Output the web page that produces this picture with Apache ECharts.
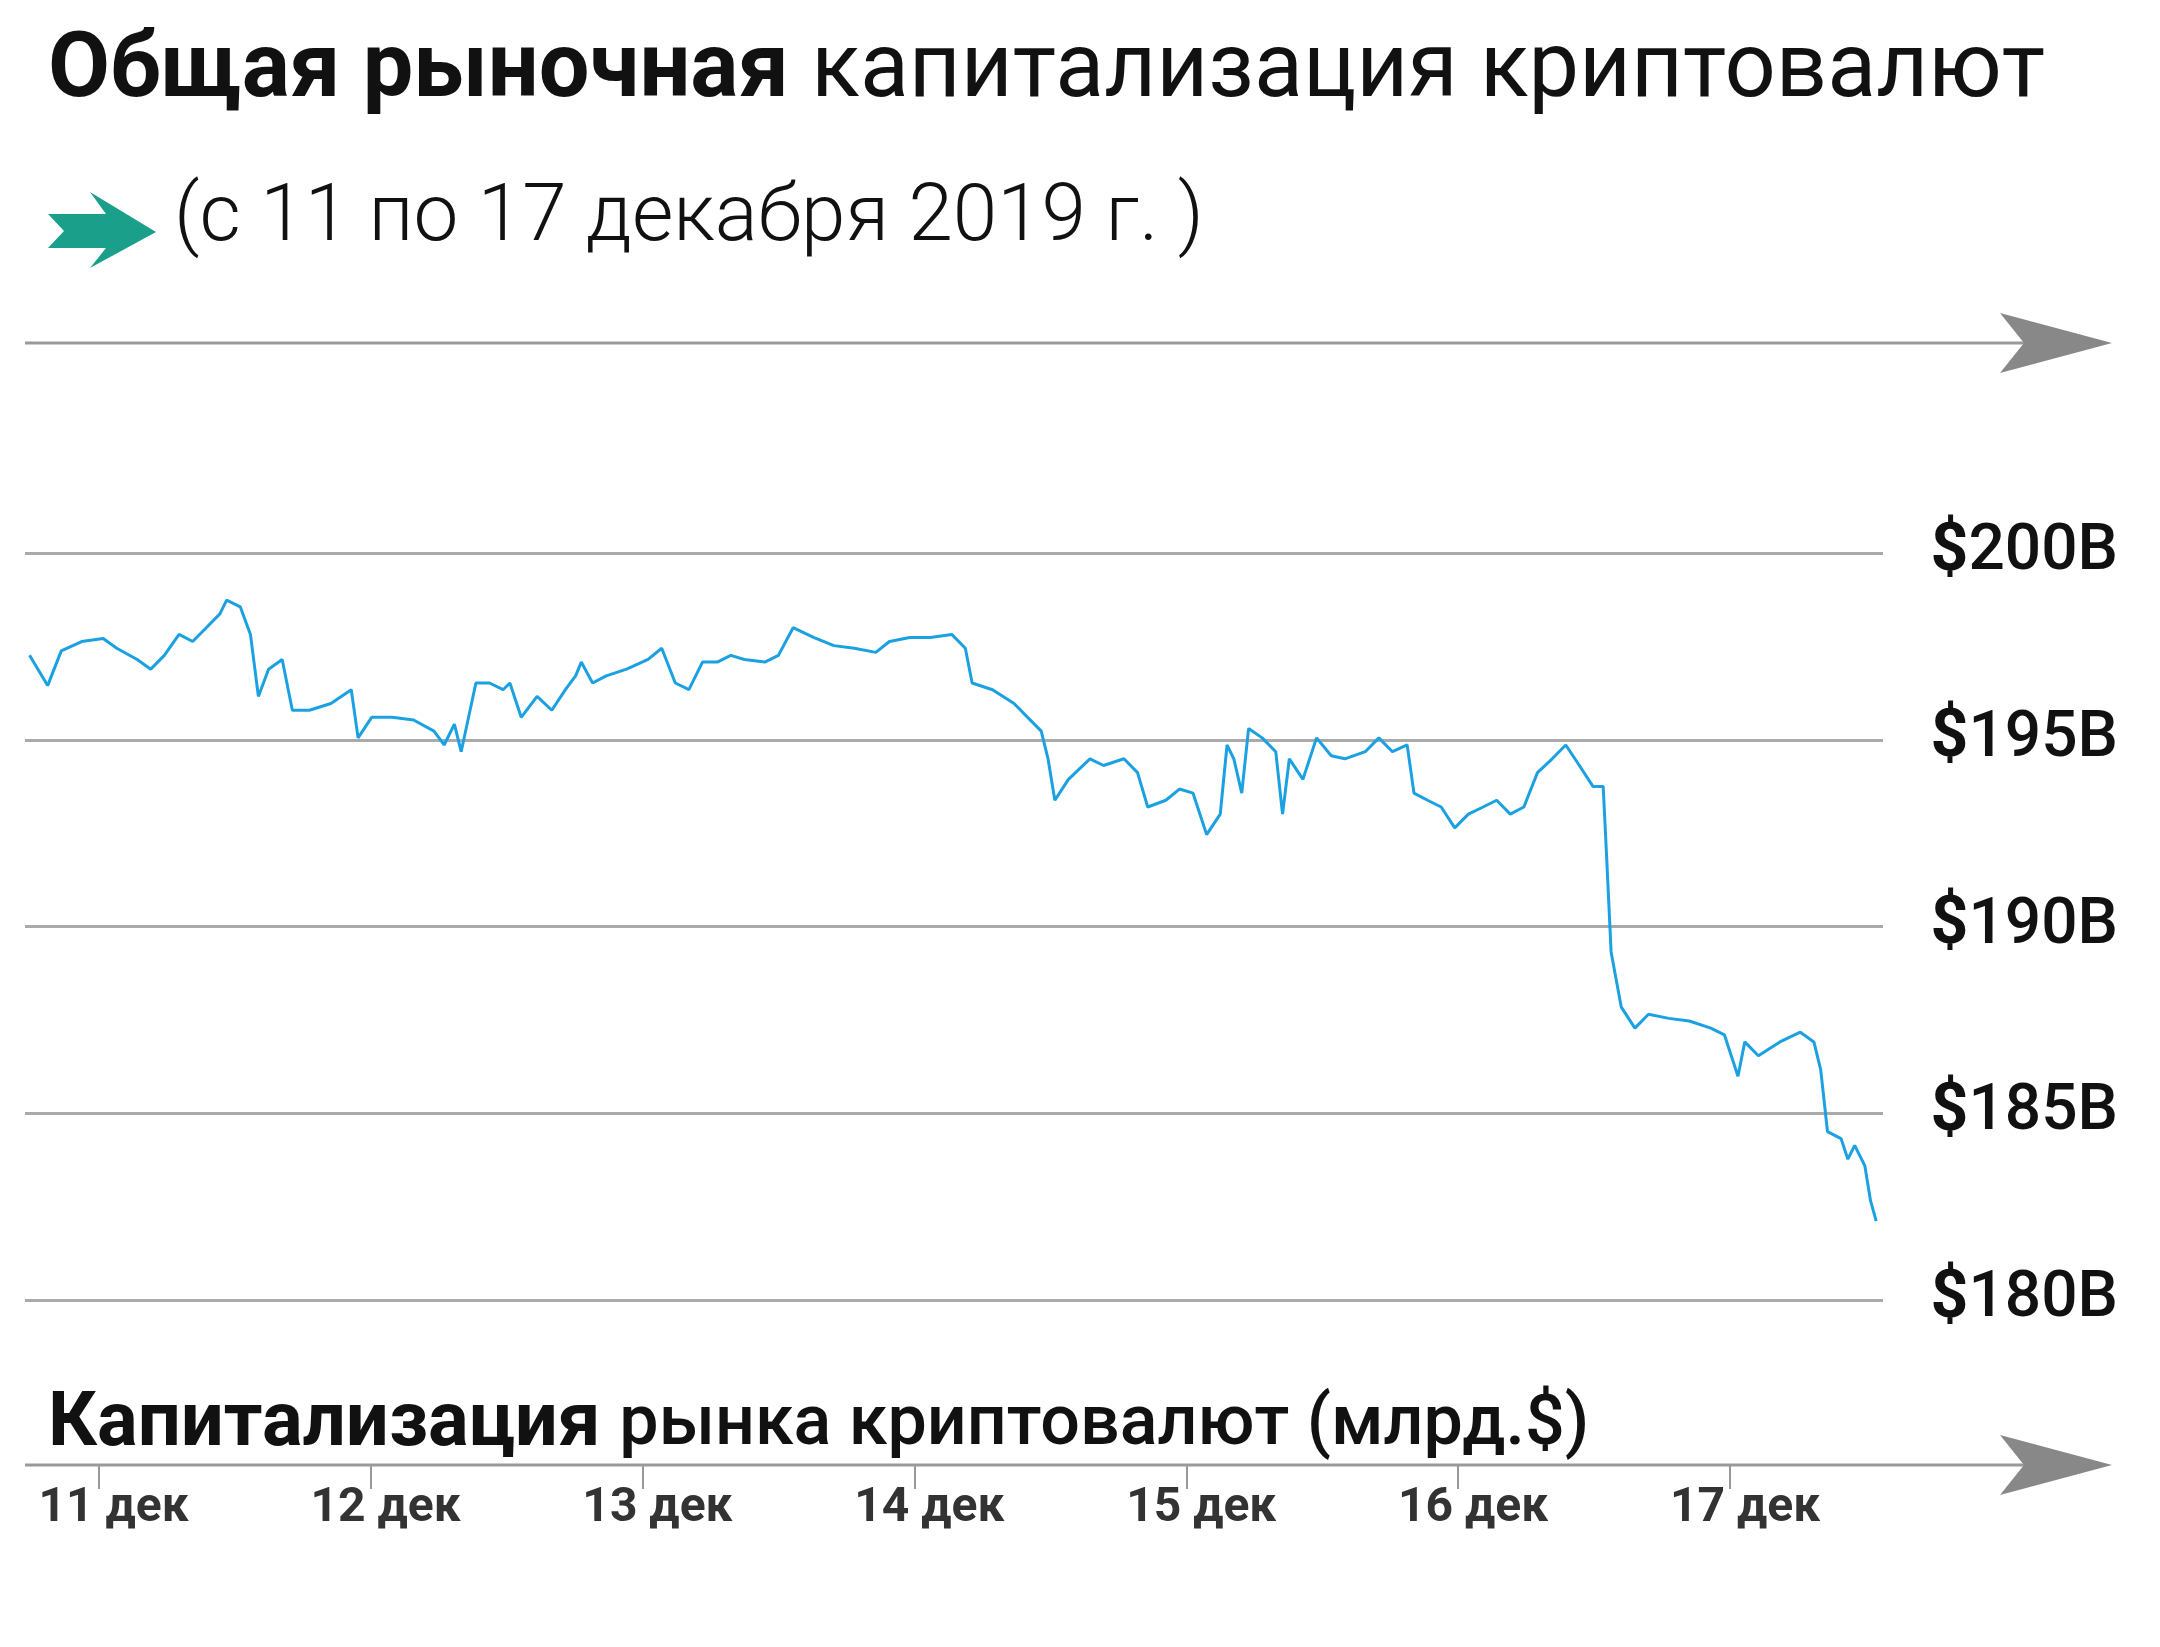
<!DOCTYPE html>
<html>
<head>
<meta charset="utf-8">
<script src="https://cdn.jsdelivr.net/npm/echarts@6/dist/echarts.min.js"></script>
<style>
  html, body { margin: 0; padding: 0; background: #fff; }
  #main { width: 2160px; height: 1647px; }
</style>
</head>
<body>
<div id="main"></div>
<script>
// hours since 11 Dec 00:00 and market cap, billions of dollars
const hours = [-6.1, -4.5, -3.3, -1.5, 0.4, 1.6, 3.4, 4.6, 5.8, 7.1, 8.3, 9.5, 10.7, 11.3, 12.5, 13.4, 14.1, 15.0, 16.2, 17.1,
  18.6, 20.5, 22.3, 22.9, 24.1, 25.9, 27.8, 29.6, 30.5, 31.4, 32.0, 33.3, 34.5, 35.7, 36.3, 37.3, 38.7, 40.0, 41.2, 42.1,
  42.6, 43.6, 44.8, 46.6, 48.5, 49.7, 50.9, 52.1, 53.3, 54.6, 55.8, 57.0, 58.8, 60.0, 61.3, 63.1, 64.9, 66.7, 68.6, 69.8,
  71.6, 73.4, 75.3, 76.5, 77.1, 78.9, 80.8, 82.0, 83.2, 83.8, 84.4, 85.6, 87.5, 88.7, 90.5, 91.7, 92.6, 94.2, 95.4, 96.6,
  97.8, 99.0, 99.6, 100.2, 100.9, 101.5, 102.7, 103.9, 104.5, 105.1, 106.3, 107.5, 108.8, 110.0, 111.8, 113.0, 114.2, 115.5, 116.1, 117.3,
  118.5, 119.7, 120.9, 122.2, 123.4, 124.6, 125.8, 127.0, 128.3, 129.5, 130.7, 131.9, 132.8, 133.1, 133.5, 134.4, 135.6, 136.8, 138.6, 140.4,
  142.3, 143.5, 144.7, 145.3, 146.5, 148.4, 150.2, 151.4, 152.0, 152.6, 153.8, 154.4, 155.0, 155.9, 156.4, 156.9];
const capBn = [197.26, 196.45, 197.38, 197.63, 197.71, 197.45, 197.15, 196.89, 197.26, 197.82, 197.63, 198.00, 198.37, 198.74, 198.56, 197.82, 196.16, 196.89, 197.15, 195.79,
  195.79, 195.97, 196.34, 195.05, 195.60, 195.60, 195.53, 195.23, 194.86, 195.42, 194.68, 196.52, 196.52, 196.34, 196.52, 195.60, 196.16, 195.79, 196.34, 196.71,
  197.08, 196.52, 196.71, 196.89, 197.15, 197.45, 196.52, 196.34, 197.08, 197.08, 197.26, 197.15, 197.08, 197.26, 198.00, 197.74, 197.52, 197.45, 197.34, 197.63,
  197.74, 197.74, 197.82, 197.45, 196.52, 196.34, 195.97, 195.60, 195.23, 194.49, 193.38, 193.94, 194.49, 194.31, 194.49, 194.12, 193.20, 193.38, 193.68, 193.57,
  192.46, 193.01, 194.86, 194.49, 193.57, 195.30, 195.05, 194.68, 193.01, 194.49, 193.94, 195.05, 194.57, 194.49, 194.68, 195.05, 194.68, 194.86, 193.57, 193.38,
  193.20, 192.64, 193.01, 193.20, 193.38, 193.01, 193.20, 194.12, 194.49, 194.86, 194.31, 193.75, 193.75, 191.90, 189.32, 187.84, 187.28, 187.65, 187.54, 187.47,
  187.28, 187.10, 185.99, 186.91, 186.54, 186.91, 187.17, 186.91, 186.17, 184.51, 184.32, 183.77, 184.14, 183.59, 182.66, 182.11];
const dayTicks = [0, 24, 48, 72, 96, 120, 144];
const dayLabels = ['11 дек', '12 дек', '13 дек', '14 дек', '15 дек', '16 дек', '17 дек'];
const yTicks = [180, 185, 190, 195, 200];

const chart = echarts.init(document.getElementById('main'));
const font = 'Roboto';

function arrowHead(xTip, y, color) {
  return {
    type: 'polygon',
    shape: { points: [[xTip, y], [xTip - 112, y - 30], [xTip - 88, y], [xTip - 112, y + 30]] },
    style: { fill: color }
  };
}

chart.setOption({
  backgroundColor: '#fff',
  animation: false,
  grid: { left: 25, right: 277, top: 553, bottom: 347, containLabel: false },
  xAxis: {
    type: 'value', min: -6.5, max: 157.5,
    offset: 165,
    axisLine: { show: false },
    splitLine: { show: false },
    axisTick: { show: true, customValues: dayTicks, length: 24, lineStyle: { color: '#999', width: 2 } },
    axisLabel: {
      customValues: dayTicks,
      formatter: v => dayLabels[dayTicks.indexOf(v)],
      margin: 20, fontFamily: font, fontWeight: 'bold', fontSize: 48, color: '#333', padding: [0, 0, 0, 30]
    }
  },
  yAxis: {
    type: 'value', min: 180, max: 200, position: 'right',
    axisLine: { show: false }, axisTick: { show: false },
    splitLine: { lineStyle: { color: '#aaa', width: 3 } },
    axisLabel: {
      customValues: yTicks,
      formatter: v => '{d|$}{n|' + v + 'B}',
      align: 'right', margin: 235,
      rich: {
        d: { fontFamily: font, fontWeight: 'bold', fontSize: 66, color: '#111' },
        n: { fontFamily: font, fontWeight: 500, fontSize: 64, color: '#111' }
      }
    }
  },
  series: [{
    type: 'line',
    data: hours.map((h, i) => [h, capBn[i]]),
    showSymbol: false,
    lineStyle: { color: '#1ba1e2', width: 3 }
  }],
  graphic: [
    {
      type: 'text', left: 48, top: 28,
      style: {
        text: '{b|Общая рыночная }{r|капитализация криптовалют}',
        rich: {
          b: { fontFamily: font, fontWeight: 'bold', fontSize: 90, fill: '#111' },
          r: { fontFamily: font, fontWeight: 'normal', fontSize: 90, fill: '#111' }
        }
      }
    },
    {
      type: 'polygon',
      shape: { points: [[48, 214], [106, 214], [90, 192], [156, 232], [90, 268], [106, 248], [48, 248], [64, 231]] },
      style: { fill: '#1aa08a' }
    },
    {
      type: 'text', left: 174, top: 180,
      style: { text: '(с 11 по 17 декабря 2019 г. )', fontFamily: font, fontWeight: 300, fontSize: 80, fill: '#111' }
    },
    { type: 'line', shape: { x1: 25, y1: 343, x2: 2060, y2: 343 }, style: { stroke: '#999', lineWidth: 3 } },
    arrowHead(2112, 343, '#888'),
    {
      type: 'text', left: 48, top: 1388,
      style: {
        text: '{b|Капитализация }{r|рынка криптовалют (млрд.$)}',
        rich: {
          b: { fontFamily: font, fontWeight: 'bold', fontSize: 76, fill: '#111' },
          r: { fontFamily: font, fontWeight: 500, fontSize: 70, fill: '#111' }
        }
      }
    },
    { type: 'line', shape: { x1: 25, y1: 1465, x2: 2060, y2: 1465 }, style: { stroke: '#999', lineWidth: 3 } },
    arrowHead(2112, 1465, '#888')
  ]
});
</script>
</body>
</html>
